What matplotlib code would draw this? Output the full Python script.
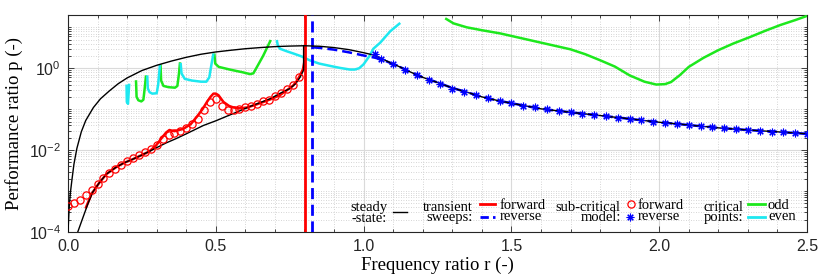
import numpy as np
import matplotlib
matplotlib.use("Agg")
import matplotlib.pyplot as plt
from matplotlib.ticker import (FixedLocator, LogLocator, LogFormatterSciNotation, MultipleLocator,
                               FormatStrFormatter, NullFormatter)

# ---------------- data ----------------
# steady-state, upper branch
ss_up_r = [0.0, 0.004, 0.008, 0.013, 0.02, 0.03, 0.045, 0.06, 0.086, 0.11, 0.14, 0.17, 0.2, 0.25,
           0.3, 0.35, 0.4, 0.45, 0.5, 0.55, 0.6, 0.65, 0.7, 0.75, 0.8, 0.85, 0.9, 0.95, 1.0, 1.04,
           1.08, 1.12, 1.16, 1.2, 1.25, 1.3, 1.35, 1.4, 1.45, 1.5, 1.6, 1.7, 1.8, 1.9, 2.0, 2.1,
           2.2, 2.3, 2.4, 2.5]
ss_up_p = [1e-4, 4e-4, 9e-4, 1.8e-3, 4.5e-3, 1.1e-2, 2.8e-2, 5.3e-2, 0.11, 0.18, 0.28, 0.42, 0.58, 0.88,
           1.18, 1.5, 1.85, 2.2, 2.5, 2.75, 3.0, 3.2, 3.38, 3.48, 3.55, 3.45, 3.2, 2.85, 2.4, 2.05,
           1.48, 1.1, 0.8, 0.6, 0.45, 0.33, 0.26, 0.2, 0.165, 0.14, 0.102, 0.084, 0.07, 0.058, 0.048, 0.041,
           0.035, 0.031, 0.028, 0.025]
# steady-state, lower branch (ends with jump to upper branch)
ss_lo_r = [0.033, 0.05, 0.067, 0.083, 0.106, 0.13, 0.162, 0.19, 0.219, 0.25, 0.275, 0.30, 0.332,
           0.365, 0.40, 0.458, 0.5, 0.571, 0.62, 0.684, 0.72, 0.751, 0.77, 0.785, 0.797, 0.797]
ss_lo_p = [1e-4, 2.2e-4, 4.8e-4, 9.3e-4, 1.6e-3, 2.6e-3, 3.8e-3, 4.9e-3, 6e-3, 7.6e-3, 9.3e-3, 0.0115,
           0.015, 0.019, 0.025, 0.04, 0.052, 0.085, 0.12, 0.18, 0.25, 0.32, 0.42, 0.6, 0.9, 3.55]

# transient sweeps
fwd_r = [0.061, 0.08, 0.106, 0.13, 0.162, 0.19, 0.219, 0.25, 0.275, 0.298, 0.315, 0.332, 0.343, 0.36,
         0.39, 0.415, 0.435, 0.455, 0.47, 0.482, 0.492, 0.50, 0.509, 0.526, 0.545, 0.56, 0.58, 0.605,
         0.63, 0.661, 0.69, 0.717, 0.74, 0.762, 0.775, 0.785, 0.795, 0.80]
fwd_p = [4e-4, 8.6e-4, 1.6e-3, 2.6e-3, 3.8e-3, 4.9e-3, 6e-3, 7.6e-3, 9.3e-3, 0.013, 0.019, 0.027, 0.031,
         0.029, 0.033, 0.043, 0.064, 0.1, 0.15, 0.2, 0.24, 0.24, 0.22, 0.15, 0.12, 0.11, 0.105, 0.11,
         0.125, 0.15, 0.18, 0.22, 0.29, 0.38, 0.5, 0.67, 0.95, 1.5]
fwd_jump_r = 0.802
rev_r = [0.827, 0.85, 0.9, 0.95, 1.0, 1.04, 1.08, 1.12, 1.16, 1.2, 1.25, 1.3, 1.35, 1.4, 1.45, 1.5,
         1.6, 1.7, 1.8, 1.9, 2.0, 2.1, 2.2, 2.3, 2.4, 2.5]
rev_p = [3.25, 3.15, 2.85, 2.45, 2.05, 1.8, 1.45, 1.1, 0.8, 0.6, 0.45, 0.33, 0.26, 0.2, 0.165, 0.14,
         0.102, 0.084, 0.07, 0.058, 0.048, 0.041, 0.035, 0.031, 0.028, 0.025]
rev_jump_r = 0.827

# sub-critical model
sub_fwd_r = [0.00, 0.02, 0.04, 0.06, 0.08, 0.10, 0.12, 0.14, 0.16, 0.18, 0.20, 0.22, 0.24, 0.26,
             0.28, 0.30, 0.32, 0.34, 0.36, 0.38, 0.40, 0.42, 0.44, 0.46, 0.48, 0.50, 0.52, 0.54,
             0.56, 0.58, 0.60, 0.62, 0.64, 0.66, 0.68, 0.70, 0.72, 0.74, 0.76, 0.78]
sub_fwd_p = [4.4e-4, 5.2e-4, 6.1e-4, 8.1e-4, 1.05e-3, 1.5e-3, 2.1e-3, 2.7e-3, 3.5e-3, 4.4e-3, 5.4e-3,
             6.6e-3, 7.6e-3, 9.2e-3, 0.0107, 0.0136, 0.0188, 0.024, 0.026, 0.030, 0.035, 0.044, 0.059,
             0.093, 0.15, 0.18, 0.12, 0.097, 0.097, 0.10, 0.11, 0.12, 0.136, 0.155, 0.17, 0.205, 0.25,
             0.32, 0.40, 0.6]
sub_rev_r = [1.04, 1.06, 1.10, 1.14, 1.18, 1.22, 1.26, 1.30, 1.34, 1.38, 1.42, 1.46, 1.50, 1.54, 1.58,
             1.62, 1.66, 1.70, 1.74, 1.78, 1.82, 1.86, 1.90, 1.94, 1.98, 2.02, 2.06, 2.10, 2.14, 2.18,
             2.22, 2.26, 2.30, 2.34, 2.38, 2.42, 2.46, 2.50]
sub_rev_p = [2.2, 1.65, 1.25, 0.9, 0.68, 0.53, 0.41, 0.32, 0.26, 0.22, 0.19, 0.163, 0.14, 0.123, 0.11,
             0.099, 0.092, 0.085, 0.078, 0.072, 0.067, 0.062, 0.058, 0.054, 0.050, 0.047, 0.044, 0.041,
             0.039, 0.037, 0.035, 0.033, 0.031, 0.030, 0.028, 0.027, 0.026, 0.025]

# critical points (odd / even segments)
crit_odd_r = [
    [0.230, 0.232, 0.238, 0.248, 0.255, 0.259, 0.264],
    [0.313, 0.315, 0.323, 0.34, 0.362, 0.37, 0.375, 0.379],
    [0.495, 0.498, 0.51, 0.55, 0.59, 0.616, 0.627, 0.64, 0.66, 0.686],
    [1.276, 1.304, 1.349, 1.40, 1.462, 1.53, 1.597, 1.65, 1.70, 1.75, 1.80, 1.85, 1.90, 1.95, 1.99,
     2.02, 2.04, 2.07, 2.10, 2.15, 2.20, 2.25, 2.31, 2.36, 2.41, 2.46, 2.5],
]
crit_odd_p = [
    [0.51, 0.2, 0.165, 0.155, 0.17, 0.3, 0.67],
    [1.25, 0.5, 0.37, 0.345, 0.335, 0.37, 0.7, 1.4],
    [2.3, 1.3, 1.08, 0.92, 0.8, 0.72, 0.75, 1.1, 2.0, 4.9],
    [16.6, 12.5, 10, 8.5, 7.1, 5.5, 4.27, 3.5, 2.9, 2.2, 1.57, 1.1, 0.67, 0.47, 0.40,
     0.41, 0.46, 0.68, 1.08, 1.8, 2.77, 4.0, 5.9, 8.3, 11.4, 15, 19],
]
crit_even_r = [
    [0.198, 0.199, 0.203, 0.207],
    [0.268, 0.270, 0.276, 0.285, 0.300, 0.305, 0.311],
    [0.381, 0.384, 0.395, 0.42, 0.45, 0.468, 0.478, 0.485, 0.492],
    [0.706, 0.71, 0.717, 0.74, 0.762, 0.79, 0.819, 0.85, 0.887, 0.92, 0.954, 0.97, 0.985, 1.0, 1.02,
     1.033, 1.056, 1.09, 1.124],
]
crit_even_p = [
    [0.40, 0.15, 0.135, 0.42],
    [0.67, 0.32, 0.26, 0.24, 0.245, 0.4, 1.2],
    [1.35, 0.75, 0.55, 0.5, 0.47, 0.47, 0.6, 1.2, 2.3],
    [4.9, 3.6, 3.0, 2.6, 2.3, 1.95, 1.55, 1.3, 1.14, 1.02, 0.93, 0.93, 1.0, 1.25, 2.0,
     3.0, 4.2, 8.0, 12.8],
]

x_ticks = [0.0, 0.5, 1.0, 1.5, 2.0, 2.5]
y_ticks = [1e-4, 1e-2, 1e0]

# ---------------- style ----------------
plt.rcParams['font.family'] = ['Liberation Sans', 'DejaVu Sans']
plt.rcParams['mathtext.default'] = 'regular'
SERIF = ['Liberation Serif', 'DejaVu Serif']
RED = '#ff0000'
BLUE = '#0000ff'
GREEN = '#1de81d'
CYAN = '#1ee8f0'
ASTER = (8, 2, 0)

fig = plt.figure(figsize=(8.3, 2.79), dpi=100)
ax = fig.add_axes([68 / 830, 1 - 232 / 279, 739 / 830, 217 / 279])
ax.set_yscale('log')
ax.set_xlim(0, 2.5)
ax.set_ylim(1e-4, 20)

ax.xaxis.set_major_locator(FixedLocator(x_ticks))
ax.xaxis.set_major_formatter(FormatStrFormatter('%.1f'))
ax.xaxis.set_minor_locator(MultipleLocator(0.1))
ax.yaxis.set_major_locator(FixedLocator(y_ticks))
ax.yaxis.set_major_formatter(LogFormatterSciNotation())
ax.yaxis.set_minor_locator(LogLocator(base=10, subs=np.arange(1, 10), numticks=50))
ax.yaxis.set_minor_formatter(NullFormatter())

ax.grid(which='major', color='#dadada', lw=0.8, ls='-')
ax.grid(which='minor', color='#c8c8c8', lw=0.6, ls=(0, (1, 2)))
ax.set_axisbelow(True)
ax.tick_params(which='both', direction='in', top=True, right=True, width=0.6, colors='#262626',
               labelsize=11.5, labelcolor='#262626')
ax.tick_params(which='major', length=4, pad=5)
ax.tick_params(which='minor', length=2)
for s in ax.spines.values():
    s.set_color('#262626')
    s.set_linewidth(0.8)

# critical points
for rr, pp in zip(crit_odd_r, crit_odd_p):
    ax.plot(rr, pp, color=GREEN, lw=1.8, zorder=4, solid_capstyle='butt')
for rr, pp in zip(crit_even_r, crit_even_p):
    ax.plot(rr, pp, color=CYAN, lw=1.8, zorder=4, solid_capstyle='butt')

# transient sweeps
ax.plot(fwd_r, fwd_p, color=RED, lw=1.8, zorder=5)
ax.axvline(fwd_jump_r, color=RED, lw=2.0, zorder=5)
ax.plot(rev_r, rev_p, color=BLUE, lw=1.8, ls=(0, (4, 2)), zorder=5)
ax.axvline(rev_jump_r, color=BLUE, lw=2.0, ls=(0, (4, 2)), zorder=5)

# steady-state
ax.plot(ss_up_r, ss_up_p, color='black', lw=1.0, zorder=5.5)
ax.plot(ss_lo_r, ss_lo_p, color='black', lw=1.0, zorder=5.5)

# sub-critical model
ax.plot(sub_fwd_r, sub_fwd_p, ls='none', marker='o', ms=5.2, mfc='none', mec=RED, mew=0.9, zorder=6)
ax.plot(sub_rev_r, sub_rev_p, ls='none', marker=ASTER, ms=5.5, mfc=BLUE, mec=BLUE, mew=0.8, zorder=6)

ax.set_xlabel('Frequency ratio r (-)', family=SERIF, fontsize=13.5, labelpad=2)
ax.set_ylabel('Performance ratio p (-)', family=SERIF, fontsize=13.5, labelpad=4)

# ---------------- custom legend ----------------
T = ax.transAxes
fs = 10.5
y1, y2 = 0.127, 0.068


def label2(x, txt, yc=0.090):
    ax.text(x, yc, txt, transform=T, ha='right', va='center', multialignment='right',
            family=SERIF, fontsize=fs, linespacing=0.78, zorder=10)


label2(0.4317, 'steady\n-state:', 0.086)
ax.plot([0.4398, 0.4587], [0.0935, 0.0935], transform=T, color='black', lw=1.0, zorder=10)

label2(0.5476, 'transient\nsweeps:')
ax.plot([0.5575, 0.5778], [y1, y1], transform=T, color=RED, lw=2.0, zorder=10)
ax.plot([0.5575, 0.5778], [y2, y2], transform=T, color=BLUE, lw=2.0, ls=(0, (3, 1.5)), zorder=10)
ax.text(0.5836, (y1 + y2) / 2, 'forward\nreverse', transform=T, ha='left', va='center',
        family=SERIF, fontsize=fs, linespacing=0.86)

label2(0.7479, 'sub-critical\nmodel:')
ax.plot([0.7614], [y1], transform=T, ls='none', marker='o', ms=5.2, mfc='none', mec=RED, mew=0.9, zorder=10)
ax.plot([0.7605], [y2], transform=T, ls='none', marker=ASTER, ms=5.5, mfc=BLUE, mec=BLUE, mew=0.8, zorder=10)
ax.text(0.7713, (y1 + y2) / 2, 'forward\nreverse', transform=T, ha='left', va='center',
        family=SERIF, fontsize=fs, linespacing=0.86)

label2(0.9138, 'critical\npoints:')
ax.plot([0.9202, 0.9432], [y1, y1], transform=T, color=GREEN, lw=2.0, zorder=10)
ax.plot([0.9202, 0.9432], [y2, y2], transform=T, color=CYAN, lw=2.0, zorder=10)
ax.text(0.9472, (y1 + y2) / 2, 'odd\neven', transform=T, ha='left', va='center',
        family=SERIF, fontsize=fs, linespacing=0.86)

fig.savefig('out.png', dpi=100)
